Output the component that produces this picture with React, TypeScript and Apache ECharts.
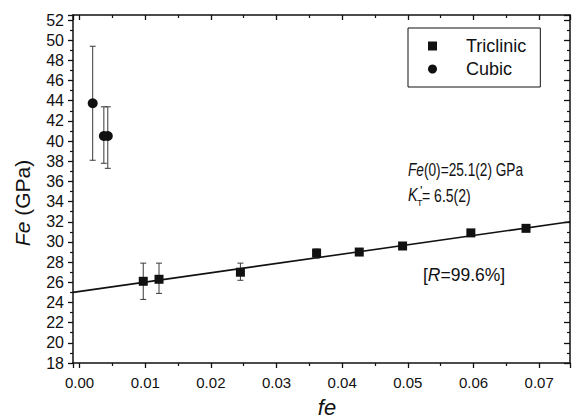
import React, { useEffect, useRef } from 'react';
import * as echarts from 'echarts';

// ---- data ----
const TRICLINIC_X = [0.0097, 0.0121, 0.0245, 0.0361, 0.0426, 0.0492, 0.0596, 0.068];
const TRICLINIC_Y = [26.1, 26.3, 27.0, 28.9, 29.0, 29.6, 30.9, 31.35];
const TRICLINIC_LOW = [24.3, 24.9, 26.2, 28.4, 28.7, 29.3, 30.6, 31.1];
const TRICLINIC_HIGH = [27.9, 27.9, 27.9, 29.3, 29.3, 29.9, 31.15, 31.6];

const CUBIC_X = [0.002, 0.0037, 0.0043];
const CUBIC_Y = [43.75, 40.5, 40.5];
const CUBIC_LOW = [38.1, 37.8, 37.3];
const CUBIC_HIGH = [49.4, 43.4, 43.4];

const FIT_X = [-0.001, 0.0747];
const FIT_Y = [25.0, 32.0];

const X_MIN = -0.001;
const X_MAX = 0.0747;
const Y_MIN = 18;
const Y_MAX = 52.5;
const Y_STEP = 2;

const SERIES_NAMES = ['Triclinic', 'Cubic'];

const FONT = "'Liberation Sans', Arial, Helvetica, sans-serif";

const zip = (a: number[], b: number[]) => a.map((v, i) => [v, b[i]]);
const zip3 = (a: number[], b: number[], c: number[]) => a.map((v, i) => [v, b[i], c[i]]);

const errorRender = (params: any, api: any) => {
  const x = api.value(0);
  const lo = api.coord([x, api.value(1)]);
  const hi = api.coord([x, api.value(2)]);
  const cap = 3;
  const style = { stroke: '#3a3a3a', lineWidth: 1 };
  return {
    type: 'group',
    children: [
      { type: 'line', shape: { x1: lo[0], y1: lo[1], x2: hi[0], y2: hi[1] }, style },
      { type: 'line', shape: { x1: lo[0] - cap, y1: lo[1], x2: lo[0] + cap, y2: lo[1] }, style },
      { type: 'line', shape: { x1: hi[0] - cap, y1: hi[1], x2: hi[0] + cap, y2: hi[1] }, style },
    ],
  };
};

export default function App() {
  const ref = useRef<HTMLDivElement>(null);

  useEffect(() => {
    document.body.style.margin = '0';
    if (!ref.current) return;
    const chart = echarts.init(ref.current, undefined, { renderer: 'svg' });

    const axisLine = { show: true, onZero: false, lineStyle: { color: '#111', width: 1.5 } };
    const txt = (extra: any) => ({
      fontFamily: FONT,
      fill: '#111',
      align: 'left',
      verticalAlign: 'middle',
      ...extra,
    });

    const option: any = {
      animation: false,
      backgroundColor: '#fff',
      textStyle: { fontFamily: FONT },
      grid: { left: 73, right: 3, top: 15, bottom: 55, containLabel: false },
      legend: {
        left: 408,
        top: 28,
        orient: 'vertical',
        data: [
          { name: SERIES_NAMES[0], icon: 'rect' },
          { name: SERIES_NAMES[1], icon: 'circle' },
        ],
        itemWidth: 9,
        itemHeight: 9,
        itemGap: 5,
        borderColor: '#111',
        borderWidth: 1,
        borderRadius: 0,
        padding: [9, 14, 9, 20],
        selectedMode: false,
        itemStyle: { opacity: 1 },
        textStyle: {
          fontFamily: FONT,
          fontSize: 18,
          color: '#111',
          lineHeight: 18,
          padding: [0, 0, 0, 24],
        },
      },
      xAxis: [
        {
          type: 'value',
          min: X_MIN,
          max: X_MAX,
          splitNumber: 8,
          position: 'bottom',
          axisLine,
          axisTick: { show: true, inside: false, length: 5, lineStyle: { color: '#111', width: 1.3 } },
          minorTick: { show: true, splitNumber: 2, length: 3, lineStyle: { color: '#111', width: 1.2 } },
          splitLine: { show: false },
          minorSplitLine: { show: false },
          axisLabel: {
            show: true,
            showMinLabel: false,
            showMaxLabel: false,
            margin: 12,
            fontSize: 15,
            fontFamily: FONT,
            color: '#111',
            formatter: (v: number) => v.toFixed(2),
          },
        },
        {
          type: 'value',
          min: X_MIN,
          max: X_MAX,
          splitNumber: 8,
          position: 'top',
          axisLine,
          axisTick: { show: true, inside: true, length: 5, lineStyle: { color: '#111', width: 1.3 } },
          minorTick: { show: true, splitNumber: 2, length: 3, lineStyle: { color: '#111', width: 1.2 } },
          splitLine: { show: false },
          axisLabel: { show: false },
        },
      ],
      yAxis: [
        {
          type: 'value',
          min: Y_MIN,
          max: Y_MAX,
          interval: Y_STEP,
          position: 'left',
          axisLine,
          axisTick: { show: true, inside: false, length: 5, lineStyle: { color: '#111', width: 1.3 } },
          minorTick: { show: true, splitNumber: 2, length: 3, lineStyle: { color: '#111', width: 1.2 } },
          splitLine: { show: false },
          axisLabel: {
            show: true,
            showMinLabel: true,
            showMaxLabel: false,
            margin: 9,
            fontSize: 16,
            fontFamily: FONT,
            color: '#111',
          },
        },
        {
          type: 'value',
          min: Y_MIN,
          max: Y_MAX,
          interval: Y_STEP,
          position: 'right',
          axisLine,
          axisTick: { show: true, inside: true, length: 6, lineStyle: { color: '#111', width: 1.3 } },
          minorTick: { show: true, splitNumber: 2, length: 3, lineStyle: { color: '#111', width: 1.2 } },
          splitLine: { show: false },
          axisLabel: { show: false },
        },
      ],
      series: [
        {
          name: 'fit',
          type: 'line',
          data: zip(FIT_X, FIT_Y),
          showSymbol: false,
          symbol: 'none',
          lineStyle: { color: '#111', width: 1.6 },
          z: 2,
          silent: true,
        },
        {
          name: 'Triclinic error',
          type: 'custom',
          renderItem: errorRender,
          encode: { x: 0, y: [1, 2] },
          data: zip3(TRICLINIC_X, TRICLINIC_LOW, TRICLINIC_HIGH),
          z: 3,
          silent: true,
        },
        {
          name: 'Cubic error',
          type: 'custom',
          renderItem: errorRender,
          encode: { x: 0, y: [1, 2] },
          data: zip3(CUBIC_X, CUBIC_LOW, CUBIC_HIGH),
          z: 3,
          silent: true,
        },
        {
          name: SERIES_NAMES[0],
          type: 'scatter',
          symbol: 'rect',
          symbolSize: 9,
          itemStyle: { color: '#111', opacity: 1 },
          data: zip(TRICLINIC_X, TRICLINIC_Y),
          z: 4,
        },
        {
          name: SERIES_NAMES[1],
          type: 'scatter',
          symbol: 'circle',
          symbolSize: 10,
          itemStyle: { color: '#111', opacity: 1 },
          data: zip(CUBIC_X, CUBIC_Y),
          z: 4,
        },
      ],
      graphic: [
        {
          type: 'text',
          x: 22,
          y: 203,
          rotation: Math.PI / 2,
          style: txt({
            text: '{i|Fe} (GPa)',
            fontSize: 21,
            align: 'center',
            rich: { i: { fontStyle: 'italic', fontSize: 21, fontFamily: FONT, fill: '#111' } },
          }),
        },
        {
          type: 'text',
          x: 327,
          y: 407,
          style: txt({ text: 'fe', fontSize: 22, fontStyle: 'italic', align: 'center' }),
        },
        {
          type: 'text',
          x: 408,
          y: 170,
          scaleX: 0.76,
          style: txt({
            text: '{i|Fe}(0)=25.1(2) GPa',
            fontSize: 18,
            rich: { i: { fontStyle: 'italic', fontSize: 18, fontFamily: FONT, fill: '#111' } },
          }),
        },
        {
          type: 'text',
          x: 408,
          y: 194,
          scaleX: 0.8,
          style: txt({ text: 'K', fontSize: 18, fontStyle: 'italic' }),
        },
        {
          type: 'text',
          x: 420,
          y: 190,
          style: txt({ text: "'", fontSize: 13 }),
        },
        {
          type: 'text',
          x: 417,
          y: 203,
          style: txt({ text: 'T', fontSize: 9 }),
        },
        {
          type: 'text',
          x: 422,
          y: 195,
          scaleX: 0.78,
          style: txt({ text: '= 6.5(2)', fontSize: 18 }),
        },
        {
          type: 'text',
          x: 423,
          y: 275,
          style: txt({
            text: '[{i|R}=99.6%]',
            fontSize: 17.5,
            rich: { i: { fontStyle: 'italic', fontSize: 17.5, fontFamily: FONT, fill: '#111' } },
          }),
        },
      ],
    };

    chart.setOption(option);
    return () => chart.dispose();
  }, []);

  return <div ref={ref} style={{ width: 573, height: 418 }} />;
}
